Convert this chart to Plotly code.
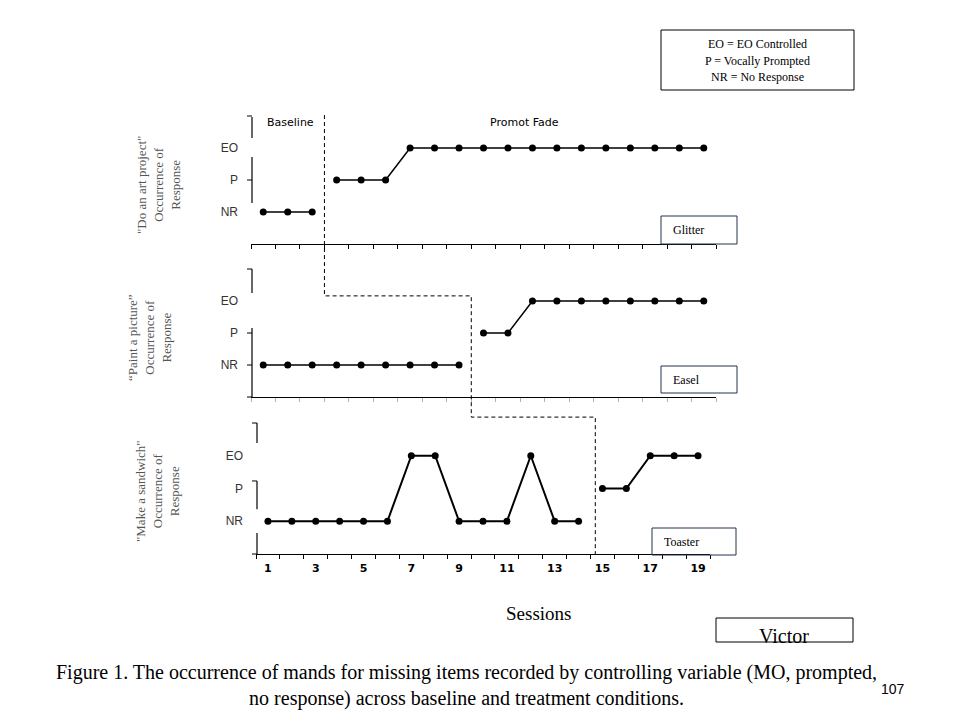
import plotly.graph_objects as go

W, H = 960, 720
OFF = 8  # page body margin compensation

# ---------------- data ----------------
sessions = list(range(1, 20))
level_names = ["NR", "P", "EO"]
level_values = [1, 2, 3]
art_project = [1, 1, 1, 2, 2, 2, 3, 3, 3, 3, 3, 3, 3, 3, 3, 3, 3, 3, 3]
paint_picture = [1, 1, 1, 1, 1, 1, 1, 1, 1, 2, 2, 3, 3, 3, 3, 3, 3, 3, 3]
make_sandwich = [1, 1, 1, 1, 1, 1, 3, 3, 1, 1, 1, 3, 1, 1, 2, 2, 3, 3, 3]
last_baseline_session = [3, 9, 14]
phase_line_x = [3.5, 9.5, 14.7]
x_tick_values = [1, 3, 5, 7, 9, 11, 13, 15, 17, 19]
x_tick_labels = ["1", "3", "5", "7", "9", "11", "13", "15", "17", "19"]
panel_titles = ['"Do an art project"', "\u201cPaint a picture\u201d", '"Make a sandwich"']
items = ["Glitter", "Easel", "Toaster"]
series = [art_project, paint_picture, make_sandwich]

# ---------------- geometry (pixels) ----------------
panels = [
    dict(x0=251, x1=716, ybot=244, ytop=116, lw=1.5, title_x=158, title_y=185,
         axis_segments=[(3.97, 3.31), (2.72, 1.28)], yticks=[4, 2], xtickcolor="black"),
    dict(x0=251, x1=716, ybot=397, ytop=269, lw=1.5, title_x=150, title_y=338,
         axis_segments=[(4.0, 3.25), (2.16, 0.0)], yticks=[4, 2, 1, 0], xtickcolor="#b0b0b0"),
    dict(x0=256, x1=710, ybot=554, ytop=423, lw=2.0, title_x=158, title_y=491,
         axis_segments=[(4.0, 3.39), (2.23, 1.37), (0.64, 0.0)], yticks=[4, 2.23, 0], xtickcolor="black"),
]
XR = [0.5, 19.5]
YR = [0, 4]


def px(x):
    return (x - OFF) / W


def py(y):
    return 1 - (y - OFF) / H


def xpaper(i, v):
    p = panels[i]
    return px(p["x0"] + (v - XR[0]) / (XR[1] - XR[0]) * (p["x1"] - p["x0"]))


def ypaper(i, v):
    p = panels[i]
    return py(p["ybot"] - (v - YR[0]) / (YR[1] - YR[0]) * (p["ybot"] - p["ytop"]))


fig = go.Figure()
layout = dict(
    width=W, height=H, margin=dict(l=0, r=0, t=0, b=0),
    paper_bgcolor="white", plot_bgcolor="white", showlegend=False,
)

shapes = []
annotations = []

for i, p in enumerate(panels):
    sfx = "" if i == 0 else str(i + 1)
    xa, ya = "x" + sfx, "y" + sfx
    vals = series[i]
    split = last_baseline_session[i]
    for seg_x, seg_y in [
        (sessions[:split], vals[:split]),
        (sessions[split:], vals[split:]),
    ]:
        fig.add_trace(go.Scatter(
            x=seg_x, y=seg_y, mode="lines+markers", xaxis=xa, yaxis=ya,
            line=dict(color="black", width=p["lw"]),
            marker=dict(color="black", size=7, symbol="circle"),
            hoverinfo="skip",
        ))
    xaxis = dict(
        domain=[px(p["x0"]), px(p["x1"])], anchor=ya, range=XR,
        showline=True, linecolor="black", linewidth=1,
        showgrid=False, zeroline=False, ticks="",
        minor=dict(tickmode="linear", tick0=0.5, dtick=1, ticks="outside",
                   ticklen=4, tickcolor=p["xtickcolor"], tickwidth=1, showgrid=False),
        fixedrange=True,
    )
    if i == 2:
        xaxis.update(tickmode="array", tickvals=x_tick_values, ticktext=x_tick_labels,
                     showticklabels=True, ticklabelstandoff=4,
                     tickfont=dict(family="DejaVu Sans", size=11, color="black", weight="bold"))
    else:
        xaxis.update(showticklabels=False)
    yaxis = dict(
        domain=[py(p["ybot"]), py(p["ytop"])], anchor=xa, range=YR,
        showline=False, showgrid=False, zeroline=False, ticks="",
        tickmode="array", tickvals=level_values, ticktext=level_names,
        tickfont=dict(family="Liberation Sans", size=12, color="#333"),
        ticklabelstandoff=12, fixedrange=True,
    )
    layout["xaxis" + sfx] = xaxis
    layout["yaxis" + sfx] = yaxis

    # broken y-axis line segments
    xl = px(p["x0"] + 1)
    for a, b in p["axis_segments"]:
        shapes.append(dict(type="line", xref="paper", yref="paper",
                           x0=xl, x1=xl, y0=ypaper(i, a), y1=ypaper(i, b),
                           line=dict(color="black", width=1.2)))
    for t in p["yticks"]:
        shapes.append(dict(type="line", xref="paper", yref="paper",
                           x0=xl - 5 / W, x1=xl, y0=ypaper(i, t), y1=ypaper(i, t),
                           line=dict(color="black", width=1)))

    # y-axis title
    annotations.append(dict(
        xref="paper", yref="paper", x=px(p["title_x"]), y=py(p["title_y"]),
        text=panel_titles[i] + "<br>Occurrence of<br>Response", showarrow=False,
        textangle=-90, xanchor="center", yanchor="middle", align="center",
        font=dict(family="Liberation Serif", size=13, color="#555"),
    ))

# item boxes
item_boxes = [(661, 216, 737, 244, 671), (661, 366, 737, 393, 671), (652, 528, 736, 555, 662)]
for (x0, y0, x1, y1, tx), name in zip(item_boxes, items):
    shapes.append(dict(type="rect", xref="paper", yref="paper",
                       x0=px(x0), x1=px(x1), y0=py(y0), y1=py(y1),
                       line=dict(color="#23324f", width=1), fillcolor="rgba(0,0,0,0)"))
    annotations.append(dict(xref="paper", yref="paper", x=px(tx), y=py((y0 + y1) / 2),
                            text=name, showarrow=False, xanchor="left", yanchor="middle",
                            font=dict(family="Liberation Serif", size=12, color="black")))

# phase change dashed line
pts = [
    (xpaper(0, phase_line_x[0]), ypaper(0, 4.03)),
    (xpaper(0, phase_line_x[0]), ypaper(1, 3.16)),
    (xpaper(1, phase_line_x[1]), ypaper(1, 3.16)),
    (xpaper(1, phase_line_x[1]), ypaper(2, 4.18)),
    (xpaper(2, phase_line_x[2]), ypaper(2, 4.18)),
    (xpaper(2, phase_line_x[2]), ypaper(2, 0.0)),
]
path = "M " + " L ".join(f"{a:.5f},{b:.5f}" for a, b in pts)
shapes.append(dict(type="path", xref="paper", yref="paper", path=path,
                   line=dict(color="black", width=1, dash="4px,3px")))

# phase labels
annotations.append(dict(xref="paper", yref="paper", x=px(290), y=py(123), text="Baseline",
                        showarrow=False, xanchor="center", yanchor="middle",
                        font=dict(family="DejaVu Sans", size=11, color="black")))
annotations.append(dict(xref="paper", yref="paper", x=px(524), y=py(123), text="Promot Fade",
                        showarrow=False, xanchor="center", yanchor="middle",
                        font=dict(family="DejaVu Sans", size=11, color="black")))

# key box
shapes.append(dict(type="rect", xref="paper", yref="paper", x0=px(661), x1=px(854),
                   y0=py(30), y1=py(90), line=dict(color="black", width=1)))
for txt, yy in [("EO = EO Controlled", 44), ("P = Vocally Prompted", 61), ("NR = No Response", 77)]:
    annotations.append(dict(xref="paper", yref="paper", x=px(757), y=py(yy), text=txt,
                            showarrow=False, xanchor="center", yanchor="middle",
                            font=dict(family="Liberation Serif", size=12, color="black")))

# Sessions label
annotations.append(dict(xref="paper", yref="paper", x=px(538), y=py(613), text="Sessions",
                        showarrow=False, xanchor="center", yanchor="middle",
                        font=dict(family="Liberation Serif", size=19, color="black")))

# Victor box
shapes.append(dict(type="rect", xref="paper", yref="paper", x0=px(716), x1=px(853),
                   y0=py(618), y1=py(642), line=dict(color="black", width=1)))
annotations.append(dict(xref="paper", yref="paper", x=px(784), y=py(636), text="Victor",
                        showarrow=False, xanchor="center", yanchor="middle",
                        font=dict(family="Liberation Serif", size=20, color="black")))

# caption
annotations.append(dict(xref="paper", yref="paper", x=px(466), y=py(685),
                        text="Figure 1. The occurrence of mands for missing items recorded by controlling variable (MO, prompted,<br>no response) across baseline and treatment conditions.",
                        showarrow=False, xanchor="center", yanchor="middle", align="center",
                        font=dict(family="Liberation Serif", size=20, color="black")))
annotations.append(dict(xref="paper", yref="paper", x=px(893), y=py(689), text="107",
                        showarrow=False, xanchor="center", yanchor="middle",
                        font=dict(family="Liberation Sans", size=14, color="black")))

layout["shapes"] = shapes
layout["annotations"] = annotations
fig.update_layout(**layout)
fig.write_html("out.html")
